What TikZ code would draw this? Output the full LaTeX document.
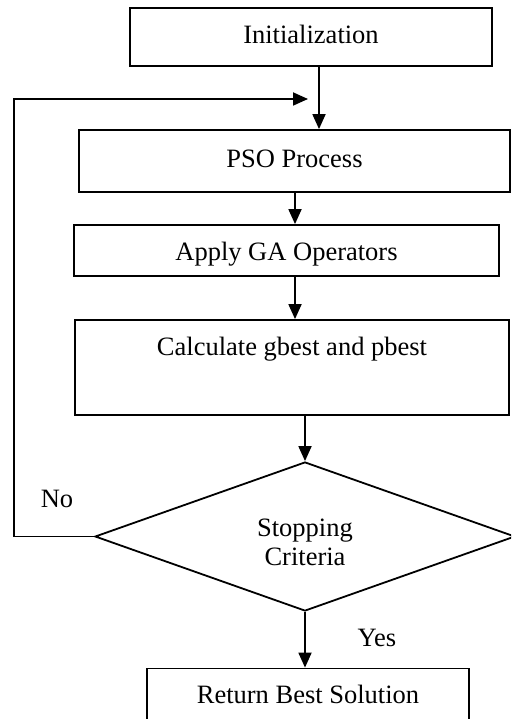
\documentclass[tikz,border=0pt]{standalone}
\usepackage{fontspec}
\setmainfont{Liberation Serif}
\usetikzlibrary{arrows.meta,shapes.geometric}
\begin{document}
\begin{tikzpicture}[x=1pt,y=-1pt,line width=1.8pt,line join=miter,
  font=\fontsize{26.5}{29}\selectfont,
  box/.style={draw,rectangle,inner sep=0pt,text height=18.5pt,text depth=5.3pt},
  decision/.style={draw,diamond,inner sep=0pt,aspect=2.8},
  lbl/.style={inner sep=0pt,text height=18.5pt,text depth=5.3pt},
  flow/.style={-{Triangle[length=15pt,width=13pt]}}]
\useasboundingbox (0,0) rectangle (511,719);
\clip (0,0) rectangle (511,719);

% process boxes
\node[box,minimum width=362pt,minimum height=58pt] (init) at (311,37) {Initialization};
\node[box,minimum width=431pt,minimum height=62pt] (pso) at (294.5,161) {PSO Process};
\node[box,minimum width=425pt,minimum height=51pt,text height=21.8pt,text depth=2.8pt] (ga) at (286.5,250.5) {Apply GA Operators};
\node[box,minimum width=434pt,minimum height=95pt] (calc) at (292,367.5) {};
\node[lbl] (calctext) at (292,349) {Calculate gbest and pbest};
\node[decision,minimum width=420pt,minimum height=149pt] (dec) at (305,536.5) {};
\node[inner sep=0pt,align=center] (dectext) at (305,542) {Stopping\\Criteria};
\node[box,minimum width=322pt,minimum height=56pt] (ret) at (308,696.5) {Return Best Solution};

% branch labels
\node[lbl] (no) at (57,500.5) {No};
\node[lbl] (yes) at (377,639.5) {Yes};

% helper columns for the vertical connectors
\coordinate (c1) at (319,0);
\coordinate (c2) at (295,0);
\coordinate (loop) at (14,99);
\coordinate (loopend) at (308,99);

% main flow
\draw[flow] (init.south -| c1) -- (pso.north -| c1);
\draw[flow] (pso.south -| c2) -- (ga.north -| c2);
\draw[flow] (ga.south -| c2) -- (calc.north -| c2);
\draw[flow] (calc.south -| dec.north) -- (dec.north);
\draw[flow] (dec.south) -- (ret.north -| dec.south);

% "No" branch back to the PSO step
\draw[flow] (dec.west) -| (loop) -- (loopend);
\end{tikzpicture}
\end{document}
